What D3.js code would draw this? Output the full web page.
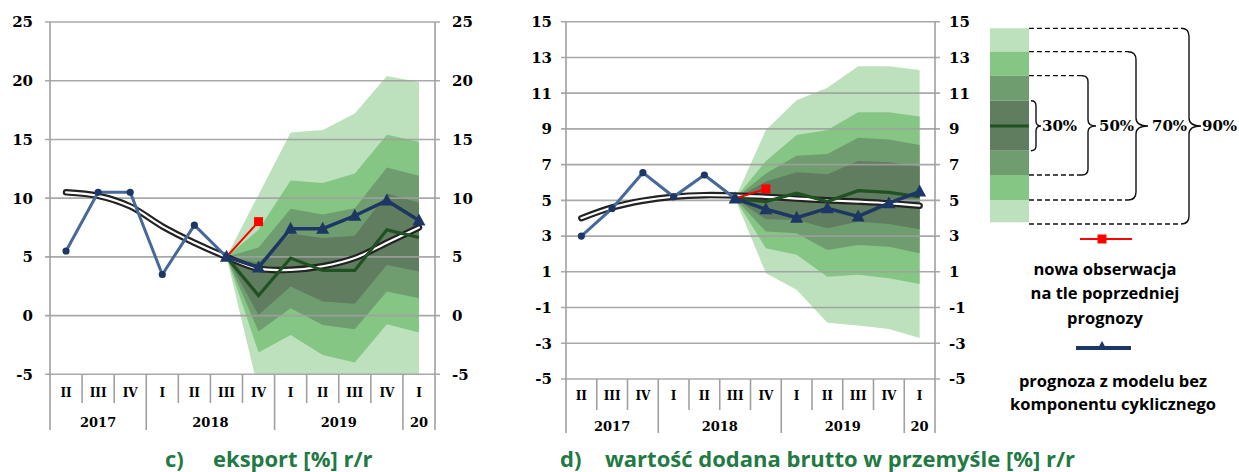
<!DOCTYPE html>
<html><head><meta charset="utf-8">
<script src="https://cdn.jsdelivr.net/npm/d3@7"></script>
<style>body{margin:0;background:#fff;} svg{display:block}</style>
</head><body><svg id="c" width="1239" height="472"></svg>
<script>
// ---------- DATA ----------
const quarters = ["II","III","IV","I","II","III","IV","I","II","III","IV","I"];
const yearLabels = ["2017","2018","2019","20"];
const yearSpans = [3,4,4,1];
const fanStart = 5; // III 2018

// c) eksport
const expTicks = [-5,0,5,10,15,20,25];
const expHist = [5.5,10.5,10.5,3.5,7.7,5.0];
const expTrend = [10.5,10.2,9.3,7.6,6.2,5.0,4.0,3.9,4.2,4.9,6.2,7.5];
const expNew = [5.0,8.0];
const expModel = [5.0,4.1,7.4,7.4,8.5,9.8,8.1];
const expCentral = [5.0,1.7,4.9,3.85,3.85,7.3,6.65];
const expU30 = [5.0,4.5,7.0,6.6,6.8,10.4,9.6];
const expL30 = [5.0,0.06,2.47,1.2,1.0,4.3,3.75];
const expU50 = [5.0,5.8,9.1,8.6,9.15,12.6,11.9];
const expL50 = [5.0,-1.36,0.63,-0.8,-1.16,2.05,1.48];
const expU70 = [5.0,7.3,11.5,11.3,12.1,15.4,14.8];
const expL70 = [5.0,-3.15,-1.65,-3.35,-4.0,-0.73,-1.45];
const expU90 = [5.0,10.3,15.6,15.8,17.2,20.4,19.9];
const expL90 = [5.0,-6.4,-6.5,-7.5,-8.0,-6.0,-6.5];

// d) wartość dodana brutto w przemyśle
const gvaTicks = [-5,-3,-1,1,3,5,7,9,11,13,15];
const gvaHist = [3.0,4.55,6.55,5.2,6.42,5.1];
const gvaTrend = [4.0,4.6,4.98,5.2,5.29,5.27,5.2,5.1,5.0,4.93,4.84,4.7];
const gvaNew = [5.1,5.64];
const gvaModel = [5.1,4.5,4.03,4.56,4.1,4.84,5.49];
const gvaCentral = [5.1,4.93,5.4,4.93,5.54,5.45,5.2];
const gvaU30 = [5.1,6.05,6.57,6.46,7.2,7.13,6.9];
const gvaL30 = [5.1,3.94,3.9,3.44,3.8,3.68,3.38];
const gvaU50 = [5.1,6.5,7.5,7.6,8.5,8.4,8.1];
const gvaL50 = [5.1,3.25,3.16,2.22,2.5,2.4,2.04];
const gvaU70 = [5.1,7.2,8.66,8.94,9.93,9.93,9.7];
const gvaL70 = [5.1,2.32,1.95,0.73,0.83,0.64,0.32];
const gvaU90 = [5.1,8.94,10.6,11.3,12.5,12.5,12.3];
const gvaL90 = [5.1,0.92,0.0,-1.85,-2.0,-2.2,-2.7];

const bandLabels = ["30%","50%","70%","90%"];
const legendNew = ["nowa obserwacja","na tle poprzedniej","prognozy"];
const legendModel = ["prognoza z modelu bez","komponentu cyklicznego"];

// ---------- STYLE ----------
const C = {
  light:"#bde1bd", mid:"#85c685", grey:"#6f9d6f", dark:"#607d60",
  grid:"#a0a0a0", hist:"#46699a", navy:"#1c3764", green:"#1f5121",
  red:"#ff0000", title:"#1f7a43"
};
const serif = "'DejaVu Serif', serif";
const sans = "'Open Sans', sans-serif";

const svg = d3.select("#c");
const defs = svg.append("defs");

function chart(o){
  const g = svg.append("g");
  const x = d3.scaleBand().domain(d3.range(12)).range([o.x0,o.x1]).paddingInner(0).paddingOuter(0);
  const cx = i => x(i) + x.bandwidth()/2;
  const y = d3.scaleLinear().domain(o.domain).range([o.yBot,o.yTop]);
  const id = "clip"+o.key;
  defs.append("clipPath").attr("id",id).append("rect")
    .attr("x",o.x0).attr("y",o.yTop).attr("width",o.x1-o.x0).attr("height",o.yBot-o.yTop);

  // fan
  const fg = g.append("g").attr("clip-path",`url(#${id})`);
  const area = d3.area().x((d,i)=>cx(fanStart+i)).y0(d=>y(d[0])).y1(d=>y(d[1]));
  const bands = [[o.L90,o.U90,C.light],[o.L70,o.U70,C.mid],[o.L50,o.U50,C.grey],[o.L30,o.U30,C.dark]];
  bands.forEach(([lo,hi,col])=>{
    fg.append("path").datum(lo.map((v,i)=>[v,hi[i]])).attr("d",area).attr("fill",col);
  });

  // grid
  g.selectAll(".gl").data(o.ticks).join("line")
    .attr("x1",o.x0-5).attr("x2",o.x1+5).attr("y1",d=>y(d)).attr("y2",d=>y(d))
    .attr("stroke",C.grid).attr("stroke-width",1.6).attr("opacity",0.9);
  // vertical axes
  [o.x0,o.x1].forEach(xx=>g.append("line").attr("x1",xx).attr("x2",xx)
    .attr("y1",o.yTop).attr("y2",o.sepBot).attr("stroke",C.grid).attr("stroke-width",1.6));
  // category separators
  const yearBounds = [];
  let acc=0; yearSpans.forEach(s=>{acc+=s; yearBounds.push(acc);});
  for(let i=1;i<12;i++){
    const xx = x(i);
    g.append("line").attr("x1",xx).attr("x2",xx).attr("y1",o.yBot)
      .attr("y2",yearBounds.includes(i)?o.sepBot:o.qBot)
      .attr("stroke",C.grid).attr("stroke-width",1.6);
  }
  // tick labels
  g.selectAll(".yl").data(o.ticks).join("text")
    .attr("x",o.x0-o.lab).attr("y",d=>y(d)).attr("dy","0.36em").attr("text-anchor","end")
    .attr("font-family",serif).attr("font-weight","bold").attr("font-size",15).text(d=>d);
  g.selectAll(".yr").data(o.ticks).join("text")
    .attr("x",o.x1+o.lab).attr("y",d=>y(d)).attr("dy","0.36em").attr("text-anchor","start")
    .attr("font-family",serif).attr("font-weight","bold").attr("font-size",15).text(d=>d);
  g.selectAll(".ql").data(quarters).join("text")
    .attr("x",(d,i)=>cx(i)).attr("y",o.qY).attr("dy","0.36em").attr("text-anchor","middle")
    .attr("font-family",serif).attr("font-weight","bold").attr("font-size",12).text(d=>d);
  let s0=0;
  yearLabels.forEach((lab,k)=>{
    const a=s0, b=s0+yearSpans[k]-1; s0+=yearSpans[k];
    g.append("text").attr("x",(cx(a)+cx(b))/2).attr("y",o.yY).attr("dy","0.36em")
      .attr("text-anchor","middle").attr("font-family",serif).attr("font-weight","bold")
      .attr("font-size",13).text(lab);
  });

  // lines
  const ln = d3.line().x(d=>cx(d[0])).y(d=>y(d[1]));
  const trend = o.trend.map((v,i)=>[i,v]);
  const tl = d3.line().x(d=>cx(d[0])).y(d=>y(d[1])).curve(d3.curveCatmullRom);
  g.append("path").datum(trend).attr("d",tl).attr("fill","none").attr("stroke","#222")
    .attr("stroke-width",6.5).attr("stroke-linecap","round");
  g.append("path").datum(trend).attr("d",tl).attr("fill","none").attr("stroke","#fff")
    .attr("stroke-width",2.2).attr("stroke-linecap","round");

  g.append("path").datum(o.central.map((v,i)=>[fanStart+i,v])).attr("d",ln)
    .attr("fill","none").attr("stroke",C.green).attr("stroke-width",3.2).attr("stroke-linejoin","miter");

  const hist = o.hist.map((v,i)=>[i,v]);
  g.append("path").datum(hist).attr("d",ln).attr("fill","none").attr("stroke",C.hist).attr("stroke-width",3);
  g.selectAll(".hc").data(hist).join("circle").attr("cx",d=>cx(d[0])).attr("cy",d=>y(d[1]))
    .attr("r",3.6).attr("fill",C.navy);

  const nw = o.nw.map((v,i)=>[fanStart+i,v]);
  g.append("path").datum(nw).attr("d",ln).attr("fill","none").attr("stroke",C.red).attr("stroke-width",2);
  g.append("rect").attr("x",cx(fanStart+1)-4.5).attr("y",y(o.nw[1])-4.5).attr("width",9).attr("height",9).attr("fill",C.red);

  const md = o.model.map((v,i)=>[fanStart+i,v]);
  g.append("path").datum(md).attr("d",ln).attr("fill","none").attr("stroke",C.navy).attr("stroke-width",3.5);
  g.selectAll(".tr").data(md).join("path")
    .attr("d",d=>{const X=cx(d[0]),Y=y(d[1]);return `M${X},${Y-7}L${X+6.5},${Y+5}L${X-6.5},${Y+5}Z`;})
    .attr("fill",C.navy);

  // title
  const t = g.append("text").attr("y",o.tY).attr("font-family",sans).attr("font-weight","bold")
    .attr("font-size",22).attr("fill",C.title);
  t.append("tspan").attr("x",o.tX1).text(o.tA);
  t.append("tspan").attr("x",o.tX2).text(o.tB);
}

chart({key:"c",x0:50,x1:435,yTop:22,yBot:374.3,domain:[-5,25],ticks:expTicks,lab:17,
  qY:393,yY:422,sepBot:430,qBot:403,
  hist:expHist,trend:expTrend,nw:expNew,model:expModel,central:expCentral,
  U30:expU30,L30:expL30,U50:expU50,L50:expL50,U70:expU70,L70:expL70,U90:expU90,L90:expL90,
  tY:467,tX1:165,tX2:213,tA:"c)",tB:"eksport [%] r/r"});

chart({key:"d",x0:566,x1:935,yTop:21.7,yBot:379,domain:[-5,15],ticks:gvaTicks,lab:14,
  qY:396,yY:426,sepBot:433,qBot:410,
  hist:gvaHist,trend:gvaTrend,nw:gvaNew,model:gvaModel,central:gvaCentral,
  U30:gvaU30,L30:gvaL30,U50:gvaU50,L50:gvaL50,U70:gvaU70,L70:gvaL70,U90:gvaU90,L90:gvaL90,
  tY:467,tX1:560,tX2:605,tA:"d)",tB:"wartość dodana brutto w przemyśle [%] r/r"});

// ---------- LEGEND ----------
const L = svg.append("g");
const bx0=990, bx1=1029;
const segs = [[28.3,51.7,C.light],[51.7,75.7,C.mid],[75.7,100.7,C.grey],[100.7,150.7,C.dark],
              [150.7,175,C.grey],[175,200,C.mid],[200,222.3,C.light]];
segs.forEach(([a,b,col])=>L.append("rect").attr("x",bx0).attr("y",a).attr("width",bx1-bx0).attr("height",b-a).attr("fill",col));
L.append("line").attr("x1",bx0).attr("x2",bx1).attr("y1",126).attr("y2",126).attr("stroke",C.green).attr("stroke-width",3);

const ym = 126;
function brace(xv, yT, yB, tip, r){
  return `M${xv-r},${yT} Q${xv},${yT} ${xv},${yT+r} L${xv},${ym-r} Q${xv},${ym} ${xv+tip},${ym}`+
         ` Q${xv},${ym} ${xv},${ym+r} L${xv},${yB-r} Q${xv},${yB} ${xv-r},${yB}`;
}
const braces = [
  {x:1036,yT:100.7,yB:150.7,tip:5,r:5,lx:1042,dash:false},
  {x:1088,yT:75.7,yB:175,tip:8,r:6,lx:1099,dash:true},
  {x:1136,yT:51.7,yB:200,tip:12,r:8,lx:1152,dash:true},
  {x:1189,yT:28.3,yB:224,tip:12,r:8,lx:1202,dash:true}
];
braces.forEach((b,k)=>{
  if(b.dash){
    [b.yT,b.yB].forEach(yy=>L.append("line").attr("x1",bx1).attr("x2",b.x-b.r).attr("y1",yy).attr("y2",yy)
      .attr("stroke","#111").attr("stroke-width",1.3).attr("stroke-dasharray","5,3"));
  }
  L.append("path").attr("d",brace(b.x,b.yT,b.yB,b.tip,b.r)).attr("fill","none").attr("stroke","#111").attr("stroke-width",1.4);
  L.append("text").attr("x",b.lx).attr("y",ym).attr("dy","0.36em").attr("font-family",serif)
    .attr("font-weight","bold").attr("font-size",15).text(bandLabels[k]);
});

// new observation legend
L.append("line").attr("x1",1080).attr("x2",1132).attr("y1",239).attr("y2",239).attr("stroke",C.red).attr("stroke-width",2);
L.append("rect").attr("x",1102-4.5).attr("y",239-4.5).attr("width",9).attr("height",9).attr("fill",C.red);
legendNew.forEach((s,i)=>L.append("text").attr("x",1105).attr("y",269+i*24.5).attr("dy","0.36em")
  .attr("text-anchor","middle").attr("font-family",sans).attr("font-weight","bold").attr("font-size",16.5).text(s));
L.append("line").attr("x1",1076).attr("x2",1131).attr("y1",348).attr("y2",348).attr("stroke",C.navy).attr("stroke-width",4);
L.append("path").attr("d",`M1102,341L1107,350L1097,350Z`).attr("fill",C.navy);
legendModel.forEach((s,i)=>L.append("text").attr("x",1113).attr("y",381.5+i*22.5).attr("dy","0.36em")
  .attr("text-anchor","middle").attr("font-family",sans).attr("font-weight","bold").attr("font-size",16.5).text(s));
</script></body></html>
